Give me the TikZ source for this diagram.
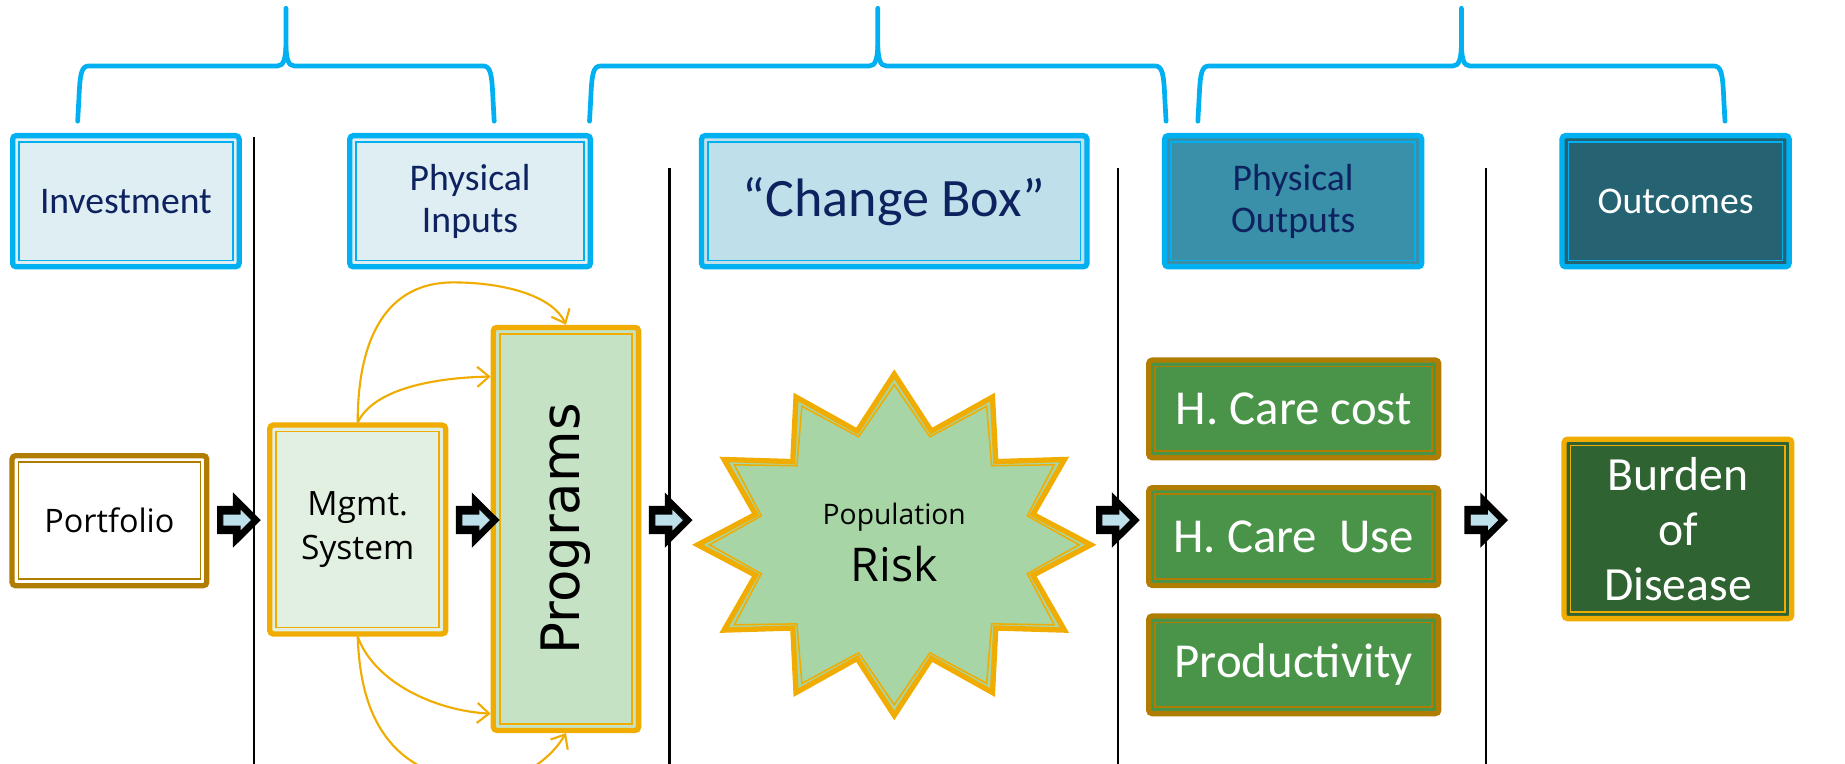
\documentclass[tikz,border=0pt]{standalone}
\usepackage{fontspec}
\usepackage{graphicx}
\setmainfont{Carlito}
\newfontfamily\osans{Open Sans}
\newfontfamily\dsans{DejaVu Sans}
\usetikzlibrary{arrows.meta}
\definecolor{cblue}{RGB}{0,176,240}
\definecolor{navy}{RGB}{14,34,96}
\definecolor{fillA}{RGB}{222,238,243}
\definecolor{fillB}{RGB}{191,224,234}
\definecolor{fillC}{RGB}{57,144,168}
\definecolor{fillD}{RGB}{37,98,114}
\definecolor{gold}{RGB}{240,172,0}
\definecolor{dgold}{RGB}{176,125,0}
\definecolor{mfill}{RGB}{225,240,225}
\definecolor{pfill}{RGB}{197,226,197}
\definecolor{sfill}{RGB}{168,213,166}
\definecolor{ofill}{RGB}{74,148,74}
\definecolor{bfill}{RGB}{47,99,50}
\definecolor{afill}{RGB}{190,224,234}
\tikzset{
  innerline/.style={path picture={\draw[#1,line width=1.4pt,sharp corners]
      ([shift={(5.5pt,-5.5pt)}]path picture bounding box.north west) rectangle
      ([shift={(-5.5pt,5.5pt)}]path picture bounding box.south east);}},
  box/.style={draw=#1, innerline=#1, line width=4.5pt, rounded corners=3pt, inner sep=0pt, align=center},
  hdr/.style={box=cblue, text=navy, font=\fontsize{32}{36}\selectfont, minimum height=111.5pt},
  obox/.style={box=dgold, fill=ofill, text=white, minimum width=246.5pt, minimum height=83pt,
      font=\fontsize{41.5}{46}\selectfont},
  brace/.style={cblue, line width=4pt, line cap=round, line join=round},
  vline/.style={black, line width=1.8pt},
  curvearrow/.style={gold, line width=1.8pt, -{Straight Barb[length=10pt,width=17pt,line width=1.8pt]}},
  barrow/.pic={
    \fill[black] (-18.5,-12) -- (-5,-12) -- (-5,-23.5) -- (18.6,0) -- (-5,23.5) -- (-5,12) -- (-18.5,12) -- cycle;
    \draw[fill=afill, line width=0.8pt] (-13.5,-5) -- (1,-5) -- (1,-10) -- (11,0) -- (1,10) -- (1,5) -- (-13.5,5) -- cycle;
  }
}
\begin{document}
\begin{tikzpicture}[x=1pt,y=-1pt]
\useasboundingbox (0,0) rectangle (1568,649);
\clip (0,0) rectangle (1568,649);

% separators
\draw[vline] (216,116) -- (216,649);
\draw[vline] (569,143) -- (569,649);
\draw[vline] (950,143) -- (950,649);
\draw[vline] (1263,143) -- (1263,649);

% braces
\foreach \a/\t/\b in {66/243/420, 501/746/991, 1018/1242/1466}{
  \draw[brace] (\a,103) -- ({\a+1},85) .. controls ({\a+2},62) and ({\a+3},56) .. ({\a+10},56)
     -- ({\t-7},56) .. controls ({\t-2},56) and ({\t-0.5},50) .. (\t,40) -- (\t,7);
  \draw[brace] (\b,103) -- ({\b-1},85) .. controls ({\b-2},62) and ({\b-3},56) .. ({\b-10},56)
     -- ({\t+7},56) .. controls ({\t+2},56) and ({\t+0.5},50) .. (\t,40);
}

% header boxes
\node[hdr, fill=fillA, minimum width=192.5pt] (inv) at (107,171) {Investment};
\node[hdr, fill=fillA, minimum width=204.5pt] (phin) at (399.5,171) {Physical\\Inputs};
\node[hdr, fill=fillB, minimum width=327.5pt, font=\fontsize{46}{50}\selectfont] (chg) at (760,171) {“Change Box”};
\node[hdr, fill=fillC, minimum width=218.5pt] (phout) at (1099,171) {Physical\\Outputs};
\node[hdr, fill=fillD, minimum width=193pt, text=white] (outc) at (1424,171) {Outcomes};

% bottom row
\node[box=dgold, fill=white, minimum width=165.5pt, minimum height=110.5pt,
      font=\osans\fontsize{27.5}{34}\selectfont] (port) at (93,442.5) {Portfolio};
\node[box=gold, fill=mfill, minimum width=149.5pt, minimum height=177.5pt,
      font=\osans\fontsize{28.5}{38}\selectfont] (mgmt) at (304,450) {Mgmt.\\System};
\node[box=gold, fill=pfill, minimum width=123.5pt, minimum height=342.5pt,
      font=\dsans\fontsize{45}{50}\selectfont] (prog) at (481,449.5) {\rotatebox{90}{Programs}};

% star
\path[fill=sfill, draw=gold, line width=4.5pt, line join=miter]
  plot[samples at={0,...,23}, variable=\k]
  ({760+(167-45*mod(\k,2))*cos(90+15*\k)},{463-(145-45*mod(\k,2))*sin(90+15*\k)}) -- cycle;
\draw[gold, line width=1.3pt]
  plot[samples at={0,...,23}, variable=\k]
  ({760+(157-40*mod(\k,2))*cos(90+15*\k)},{463-(136-41*mod(\k,2))*sin(90+15*\k)}) -- cycle;
\node[align=center, font=\osans\fontsize{39.5}{49}\selectfont] (risk) at (760,461)
  {{\fontsize{24}{28}\selectfont Population}\\Risk};

% outputs
\node[obox] (o1) at (1099.5,347.5) {H. Care cost};
\node[obox] (o2) at (1099.5,456) {H. Care~ Use};
\node[obox] (o3) at (1099.5,565) {Productivity};
\node[box=gold, fill=bfill, text=white, minimum width=193.5pt, minimum height=152.5pt,
      font=\fontsize{40.5}{46.5}\selectfont] (bur) at (1426,449.5) {Burden\\of\\Disease};

% curved connectors
\draw[curvearrow] (mgmt.north) .. controls (304,285) and (330,240) .. (385,240)
   .. controls (430,240) and (470,252) .. (prog.north);
\draw[curvearrow] (mgmt.north) .. controls (318,330) and (370,321) .. ([yshift=129.5pt]prog.west);
\draw[curvearrow] (mgmt.south) .. controls (318,580) and (370,604) .. ([yshift=-157pt]prog.west);
\draw[curvearrow] (mgmt.south) .. controls (306,600) and (325,655) .. (400,664)
   .. controls (440,668) and (468,645) .. (prog.south);

% block arrows
\foreach \x in {203,406,570,950,1263}{ \pic at (\x,442) {barrow}; }
\end{tikzpicture}
\end{document}
